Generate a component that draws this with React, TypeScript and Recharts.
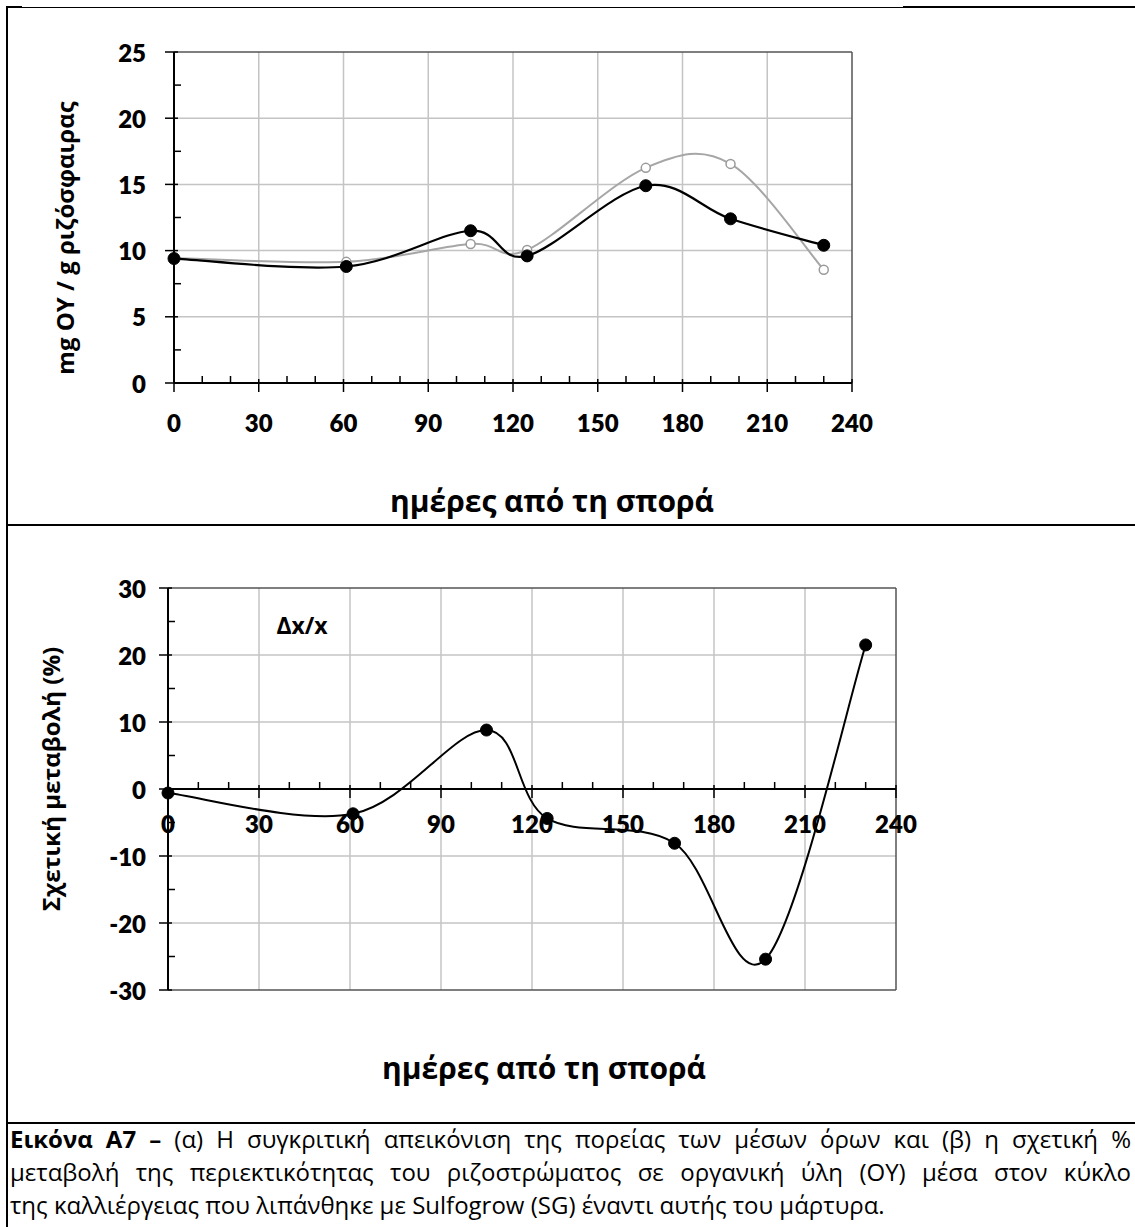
import { LineChart, Line, XAxis, YAxis, ReferenceLine, ReferenceDot } from 'recharts';

// sampling days after sowing
const days = [0, 61, 105, 125, 167, 197, 230];
// mean organic matter (mg OY / g rhizosphere)
const sulfogrow = [9.4, 8.8, 11.5, 9.6, 14.9, 12.4, 10.4];
const control = [9.45, 9.15, 10.5, 10.05, 16.25, 16.55, 8.55];
// relative change SG vs control (%)
const relChange = [-0.6, -3.7, 8.8, -4.4, -8.1, -25.4, 21.5];

const dayTicks = [0, 10, 20, 30, 40, 50, 60, 70, 80, 90, 100, 110, 120, 130, 140, 150, 160, 170, 180, 190, 200, 210, 220, 230, 240];
const dayLabels = [0, 30, 60, 90, 120, 150, 180, 210, 240];
const omTicks = [0, 2.5, 5, 7.5, 10, 12.5, 15, 17.5, 20, 22.5, 25];
const omLabels = [0, 5, 10, 15, 20, 25];
const changeTicks = [-30, -25, -20, -15, -10, -5, 0, 5, 10, 15, 20, 25, 30];
const changeLabels = [-30, -20, -10, 0, 10, 20, 30];

const captionLines = [
  '(α) Η συγκριτική απεικόνιση της πορείας των μέσων όρων και (β) η σχετική %',
  'μεταβολή της περιεκτικότητας του ριζοστρώματος σε οργανική ύλη (ΟΥ) μέσα στον κύκλο',
  'της καλλιέργειας που λιπάνθηκε με Sulfogrow (SG) έναντι αυτής του μάρτυρα.',
];

const omData = days.map((d, i) => ({ day: d, sg: sulfogrow[i], ctrl: control[i] }));
const changeData = days.map((d, i) => ({ day: d, change: relChange[i] }));

const NUM_FONT = 'Lato, "Open Sans", sans-serif';
const TXT_FONT = '"Open Sans", "Noto Sans", sans-serif';
const GRID = '#c4c4c4';
const FRAME = '#555';

// Excel-like smoothed line: Bezier segments with Catmull-Rom tangents
function excelSmooth(context: any) {
  let pts: number[][] = [];
  return {
    areaStart() {},
    areaEnd() {},
    lineStart() {
      pts = [];
    },
    point(x: number, y: number) {
      pts.push([x, y]);
    },
    lineEnd() {
      if (!pts.length) return;
      context.moveTo(pts[0][0], pts[0][1]);
      for (let i = 0; i < pts.length - 1; i++) {
        const p0 = pts[Math.max(i - 1, 0)];
        const p1 = pts[i];
        const p2 = pts[i + 1];
        const p3 = pts[Math.min(i + 2, pts.length - 1)];
        context.bezierCurveTo(
          p1[0] + (p2[0] - p0[0]) / 6,
          p1[1] + (p2[1] - p0[1]) / 6,
          p2[0] - (p3[0] - p1[0]) / 6,
          p2[1] - (p3[1] - p1[1]) / 6,
          p2[0],
          p2[1]
        );
      }
    },
  };
}

const YTick = ({ x, y, payload, labels, gap }: any) => {
  const v = payload.value;
  const major = labels.includes(v);
  return (
    <g>
      <line x1={major ? x - 9 : x} x2={major ? x + 4 : x + 7} y1={y} y2={y} stroke="#000" strokeWidth={1.5} />
      {major && (
        <text x={x - gap} y={y} textAnchor="end" dominantBaseline="central" fontFamily={NUM_FONT} fontWeight={800} fontSize={24} fill="#000">
          {v}
        </text>
      )}
    </g>
  );
};

const XTick = ({ x, y, payload, offset }: any) => {
  const v = payload.value;
  const major = dayLabels.includes(v);
  return (
    <g>
      <line x1={x} x2={x} y1={major ? y - 4 : y - 7} y2={major ? y + 9 : y} stroke="#000" strokeWidth={1.5} />
      {major && (
        <text x={x} y={y + offset} textAnchor="middle" dominantBaseline="central" fontFamily={NUM_FONT} fontWeight={800} fontSize={24} fill="#000">
          {v}
        </text>
      )}
    </g>
  );
};

const abs = (left: number, top: number, extra: any = {}) => ({ position: 'absolute' as const, left, top, ...extra });

const title = (size: number) => ({ whiteSpace: 'nowrap' as const, fontFamily: TXT_FONT, fontWeight: 700, fontSize: size, color: '#000' });

export default function App() {
  return (
    <div style={{ position: 'absolute', left: 0, top: 0, width: 1135, height: 1227, background: '#fff', overflow: 'hidden' }}>
      {/* table rules */}
      <div style={abs(6, 7, { width: 2, height: 1220, background: '#000' })} />
      <div style={abs(6, 7, { width: 897, height: 1, background: '#000' })} />
      <div style={abs(6, 6, { width: 16, height: 2, background: '#000' })} />
      <div style={abs(903, 6, { width: 232, height: 2, background: '#000' })} />
      <div style={abs(6, 524, { width: 1129, height: 2, background: '#000' })} />
      <div style={abs(6, 1122, { width: 1129, height: 2, background: '#000' })} />

      {/* (α) mean organic matter */}
      <div style={abs(0, 0)}>
        <LineChart width={900} height={470} data={omData} margin={{ top: 52, right: 48, left: 114, bottom: 27 }}>
          <XAxis
            dataKey="day"
            type="number"
            domain={[0, 240]}
            ticks={dayTicks}
            interval={0}
            height={60}
            tickSize={0}
            tickMargin={0}
            axisLine={{ stroke: '#000', strokeWidth: 2 }}
            tickLine={false}
            tick={(p: any) => <XTick {...p} offset={39} />}
          />
          <YAxis
            type="number"
            domain={[0, 25]}
            ticks={omTicks}
            interval={0}
            width={60}
            tickSize={0}
            tickMargin={0}
            axisLine={{ stroke: '#000', strokeWidth: 2 }}
            tickLine={false}
            tick={(p: any) => <YTick {...p} labels={omLabels} gap={28} />}
          />
          {dayLabels.slice(1, -1).map((d) => (
            <ReferenceLine key={'vx' + d} x={d} stroke={GRID} strokeWidth={1.5} />
          ))}
          {omLabels.slice(1, -1).map((v) => (
            <ReferenceLine key={'hy' + v} y={v} stroke={GRID} strokeWidth={1.5} />
          ))}
          <ReferenceLine y={25} stroke={FRAME} strokeWidth={1.5} />
          <ReferenceLine x={240} stroke={FRAME} strokeWidth={1.5} />
          <Line
            dataKey="ctrl"
            type={excelSmooth as any}
            stroke="#a6a6a6"
            strokeWidth={2}
            dot={{ r: 4.5, fill: '#fff', stroke: '#9a9a9a', strokeWidth: 1.5 }}
            isAnimationActive={false}
          />
          <Line
            dataKey="sg"
            type={excelSmooth as any}
            stroke="#000"
            strokeWidth={2.2}
            dot={{ r: 6, fill: '#000', stroke: '#000', strokeWidth: 1 }}
            isAnimationActive={false}
          />
        </LineChart>
      </div>
      <div style={abs(64, 238, { transform: 'translate(-50%, -50%) rotate(-90deg)', ...title(24) })}>
        mg ΟΥ / g ριζόσφαιρας
      </div>
      <div style={abs(552, 500, { transform: 'translate(-50%, -50%)', ...title(30) })}>
        ημέρες από τη σπορά
      </div>

      {/* (β) relative change */}
      <div style={abs(0, 530)}>
        <LineChart width={940} height={500} data={changeData} margin={{ top: 58, right: 44, left: 108, bottom: 40 }}>
          <XAxis dataKey="day" type="number" domain={[0, 240]} hide />
          <YAxis
            type="number"
            domain={[-30, 30]}
            ticks={changeTicks}
            interval={0}
            width={60}
            tickSize={0}
            tickMargin={0}
            axisLine={{ stroke: '#000', strokeWidth: 2 }}
            tickLine={false}
            tick={(p: any) => <YTick {...p} labels={changeLabels} gap={22} />}
          />
          {dayLabels.slice(1, -1).map((d) => (
            <ReferenceLine key={'vx' + d} x={d} stroke={GRID} strokeWidth={1.5} />
          ))}
          {changeLabels.filter((v) => v !== 0 && Math.abs(v) !== 30).map((v) => (
            <ReferenceLine key={'hy' + v} y={v} stroke={GRID} strokeWidth={1.5} />
          ))}
          <ReferenceLine y={30} stroke={FRAME} strokeWidth={1.5} />
          <ReferenceLine y={-30} stroke={FRAME} strokeWidth={1.5} />
          <ReferenceLine x={240} stroke={FRAME} strokeWidth={1.5} />
          <ReferenceLine y={0} stroke="#000" strokeWidth={2} />
          {dayTicks.map((d) => (
            <ReferenceDot
              key={'t' + d}
              x={d}
              y={0}
              r={0}
              shape={(p: any) => <XTick x={p.cx} y={p.cy} payload={{ value: d }} offset={34} />}
            />
          ))}
          <Line
            dataKey="change"
            type={excelSmooth as any}
            stroke="#000"
            strokeWidth={2}
            dot={{ r: 6, fill: '#000', stroke: '#000', strokeWidth: 1 }}
            isAnimationActive={false}
          />
        </LineChart>
      </div>
      <div style={abs(302, 625, { transform: 'translate(-50%, -50%)', ...title(23) })}>
        Δx/x
      </div>
      <div style={abs(50, 779, { transform: 'translate(-50%, -50%) rotate(-90deg)', ...title(24) })}>
        Σχετική μεταβολή (%)
      </div>
      <div style={abs(544, 1067, { transform: 'translate(-50%, -50%)', ...title(30) })}>
        ημέρες από τη σπορά
      </div>

      {/* caption */}
      <div style={abs(10, 1122, { width: 1121, fontFamily: TXT_FONT, fontSize: 24, lineHeight: '33px', color: '#000' })}>
        {captionLines.map((line, i) => (
          <div
            key={i}
            style={{ whiteSpace: 'nowrap', textAlign: i < 2 ? 'justify' : 'left', textAlignLast: i < 2 ? 'justify' : 'left' }}
          >
            {i === 0 && <b>Εικόνα Α7 – </b>}
            {line}
          </div>
        ))}
      </div>
    </div>
  );
}
